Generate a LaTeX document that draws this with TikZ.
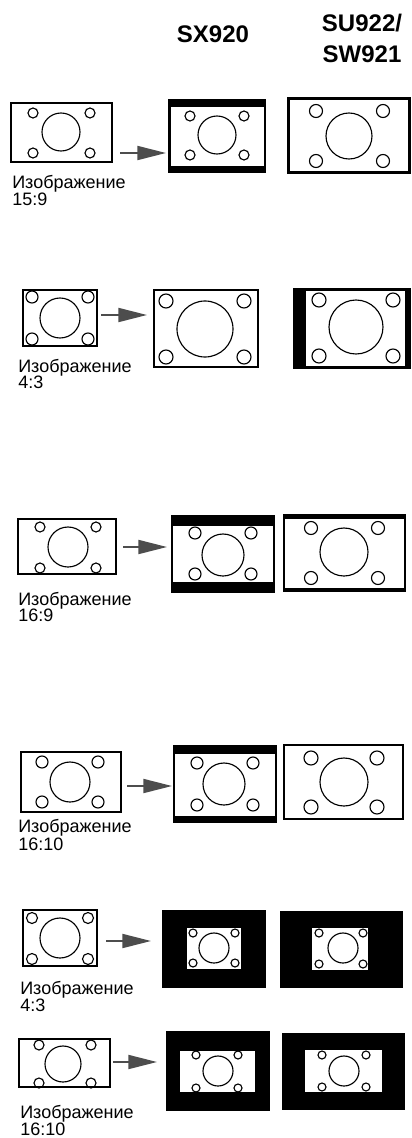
\documentclass[tikz,border=0pt]{standalone}
\usepackage{fontspec}
\setmainfont{Liberation Sans}
\usetikzlibrary{arrows.meta}
\definecolor{arrowgray}{RGB}{77,77,77}
\newcommand{\scrframe}[8]{\fill[black] (#1,#2) rectangle (#3,#4); \fill[white] (#5,#6) rectangle (#7,#8);}
\newcommand{\scrcircles}[8]{\draw[circ] (#1,#3) circle[radius=#5] (#2,#3) circle[radius=#5] (#1,#4) circle[radius=#5] (#2,#4) circle[radius=#5] (#6,#7) circle[radius=#8];}
\begin{document}
\begin{tikzpicture}[x=0.75pt,y=-0.75pt,
  circ/.style={draw=black,line width=0.85pt},
  parr/.style={draw=arrowgray,line width=1.4pt,-{Triangle[length=21.5pt,width=10.5pt,fill=arrowgray]}},
  title/.style={font=\fontsize{18pt}{23pt}\selectfont\bfseries,inner sep=0pt,anchor=base},
  lab/.style={font=\fontsize{13.5pt}{13pt}\selectfont,inner sep=0pt,anchor=base west}]
\useasboundingbox (0,0) rectangle (411,1138);
\fill[white] (0,0) rectangle (411,1138);
% titles
\node[title] (t1) at (213,43) {SX920};
\node[title] (t2a) at (362,32) {SU922/};
\node[title] (t2b) at (362,63) {SW921};
% ---------------- row 1 (15:9)
\scrframe{10}{102}{113}{163}{12}{104}{111}{161}
\scrcircles{33}{90}{113}{153}{5}{61}{132}{19}
\coordinate (a1s) at (120,153); \coordinate (a1e) at (166,153);
\draw[parr] (a1s) -- (a1e);
\scrframe{168}{99}{266}{173}{170.5}{107}{263.5}{166}
\scrcircles{190}{244}{116}{155}{5}{217}{135}{19}
\scrframe{287}{97}{411}{174}{290}{100}{408}{171}
\scrcircles{316}{383}{111}{161}{6.5}{349}{136}{23}
\node[lab] (l1a) at (12,188) {Изображение};
\node[lab] (l1b) at (12,205) {15:9};
% ---------------- row 2 (4:3)
\scrframe{22}{289}{98}{347}{24}{291}{96}{345}
\scrcircles{32}{88}{297}{339}{6}{60}{318}{20}
\coordinate (a2s) at (101,315); \coordinate (a2e) at (147,315);
\draw[parr] (a2s) -- (a2e);
\scrframe{153}{289}{259}{368}{155}{291}{257}{366}
\scrcircles{166}{244}{301}{357}{7}{205}{329}{28}
\scrframe{293}{288}{411}{369}{306}{291}{405}{366}
\scrcircles{319}{393}{300}{356}{7}{356}{327}{27}
\node[lab] (l2a) at (18,372) {Изображение};
\node[lab] (l2b) at (18,388) {4:3};
% ---------------- row 3 (16:9)
\scrframe{17}{518}{117}{575}{19}{520}{115}{573}
\scrcircles{40}{96}{527}{568}{5}{68}{547}{20}
\coordinate (a3s) at (123,547); \coordinate (a3e) at (167,547);
\draw[parr] (a3s) -- (a3e);
\scrframe{171}{515}{275}{593}{173}{526}{273}{582}
\scrcircles{195}{251}{533}{574}{6}{223}{555}{21}
\scrframe{283}{514}{406}{592}{285}{519}{404}{588}
\scrcircles{311}{378}{528}{578}{6.5}{344}{552}{24}
\node[lab] (l3a) at (18,605) {Изображение};
\node[lab] (l3b) at (18,621) {16:9};
% ---------------- row 4 (16:10)
\scrframe{20}{751}{122}{813}{22}{753}{120}{811}
\scrcircles{42}{98}{762}{802}{6}{70}{782}{20}
\coordinate (a4s) at (127,786); \coordinate (a4e) at (172,786);
\draw[parr] (a4s) -- (a4e);
\scrframe{173}{745}{277}{823}{175}{754}{275}{816}
\scrcircles{197}{253}{763}{805}{6}{224}{784}{21}
\scrframe{283}{744}{404}{820}{285}{746}{402}{818}
\scrcircles{311}{377}{758}{807}{7}{344}{782}{24}
\node[lab] (l4a) at (18,832) {Изображение};
\node[lab] (l4b) at (18,850) {16:10};
% ---------------- row 5 (4:3 small)
\scrframe{22}{909}{98}{967}{24}{911}{96}{965}
\scrcircles{32}{88}{918}{959}{5.5}{60}{938}{20}
\coordinate (a5s) at (106,941); \coordinate (a5e) at (151,941);
\draw[parr] (a5s) -- (a5e);
\scrframe{162}{910}{266}{988}{187}{928}{241}{969}
\scrcircles{193}{235}{933}{963}{4}{214}{948}{15}
\scrframe{280}{911}{403}{988}{312}{928}{368}{970}
\scrcircles{319}{363}{933}{964}{4}{343}{948}{15}
\node[lab] (l5a) at (20,994) {Изображение};
\node[lab] (l5b) at (20,1011) {4:3};
% ---------------- row 6 (16:10 small)
\scrframe{18}{1038}{111}{1088}{20}{1040}{109}{1086}
\scrcircles{39}{91}{1045}{1083}{5}{63}{1064}{18}
\coordinate (a6s) at (113,1062); \coordinate (a6e) at (157,1062);
\draw[parr] (a6s) -- (a6e);
\scrframe{166}{1031}{270}{1111}{180}{1051}{255}{1092}
\scrcircles{196}{238}{1055}{1088}{4}{218}{1071}{15}
\scrframe{282}{1033}{405}{1110}{305}{1050}{382}{1092}
\scrcircles{322}{366}{1055}{1087}{4}{344}{1071}{15}
\node[lab] (l6a) at (20,1118) {Изображение};
\node[lab] (l6b) at (20,1135) {16:10};
\end{tikzpicture}
\end{document}
